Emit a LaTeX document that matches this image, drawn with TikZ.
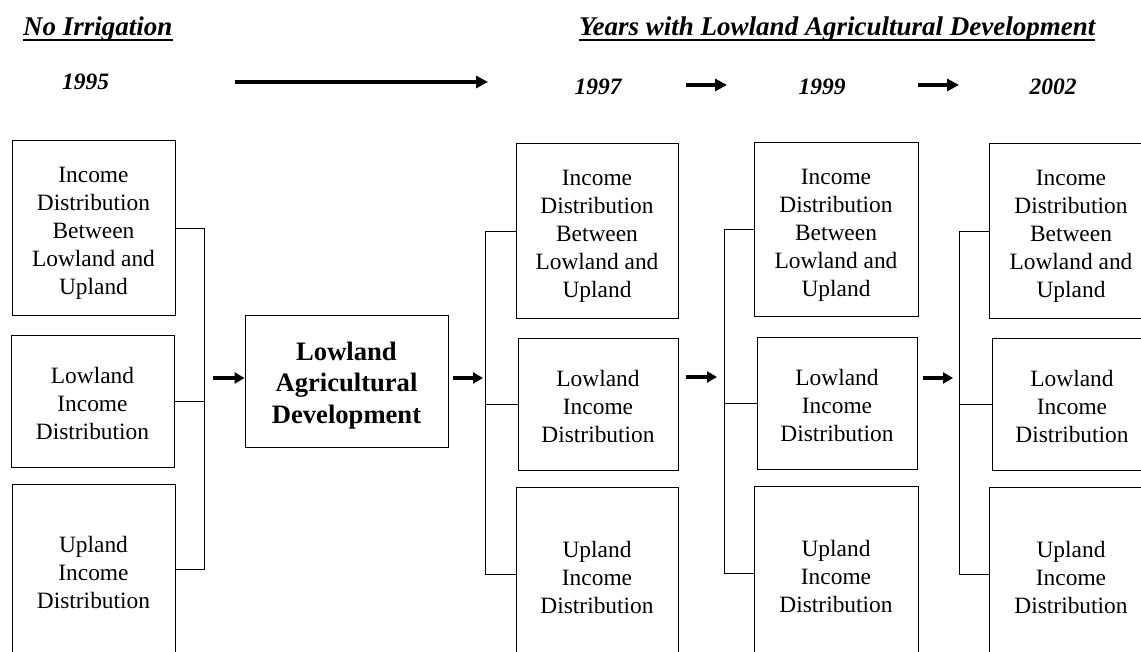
\documentclass[tikz,border=0pt]{standalone}
\usepackage{fontspec}
\setmainfont{Liberation Serif}
\usetikzlibrary{arrows.meta}
\tikzset{
  x=1pt, y=-1pt,
  box/.style={draw, line width=1pt, inner sep=0pt},
  txt/.style={inner sep=0pt, align=center,
    font=\fontsize{23.4}{28}\selectfont},
  ctxt/.style={inner sep=0pt, align=center,
    font=\fontsize{26.6}{31.5}\selectfont\bfseries},
  head/.style={inner sep=0pt, anchor=base west,
    font=\fontsize{27}{32}\selectfont\bfseries\itshape},
  year/.style={inner sep=0pt, anchor=base,
    font=\fontsize{23.5}{28}\selectfont\bfseries\itshape},
  uline/.style={line width=2pt},
  bracket/.style={line width=1pt},
  bigarrow/.style={line width=4pt, -{Triangle[length=12pt,width=12pt]}},
  arr/.style={line width=3.5pt, -{Triangle[length=10pt,width=11pt]}},
}
\begin{document}
\begin{tikzpicture}
\useasboundingbox (0,0) rectangle (1141,652);
\clip (0,0) rectangle (1141,652);

% headers
\node[head] (h1) at (23,36) {No Irrigation};
\node[head] (h2) at (579,36) {Years with Lowland Agricultural Development};
\draw[uline] ([yshift=-4.5pt]h1.base west) -- ([yshift=-4.5pt]h1.base east);
\draw[uline] ([yshift=-4.5pt]h2.base west) -- ([yshift=-4.5pt]h2.base east);

% years
\node[year] (y95) at (85.5,90) {1995};
\node[year] (y97) at (598,95) {1997};
\node[year] (y99) at (822,95) {1999};
\node[year] (y02) at (1053,95) {2002};

\coordinate (t0s) at (235,82);  \coordinate (t0e) at (488,82);
\coordinate (t1s) at (686,85);  \coordinate (t1e) at (727,85);
\coordinate (t2s) at (918,85);  \coordinate (t2e) at (959,85);
\draw[bigarrow] (t0s) -- (t0e);
\draw[bigarrow] (t1s) -- (t1e);
\draw[bigarrow] (t2s) -- (t2e);

% column 1 (1995)
\node[box, minimum width=163pt, minimum height=175pt] (a1) at (93.5,228.5) {};
\node[box, minimum width=163pt, minimum height=131pt] (a2) at (92.5,401.5) {};
\node[box, minimum width=163pt, minimum height=170pt] (a3) at (93.5,569) {};

% centre box
\node[box, minimum width=203pt, minimum height=131pt] (c) at (346.5,381.5) {};

% column 2 (1997)
\node[box, minimum width=162pt, minimum height=175pt] (b1) at (597,231.5) {};
\node[box, minimum width=160pt, minimum height=131pt] (b2) at (598,404.5) {};
\node[box, minimum width=162pt, minimum height=175pt] (b3) at (597,574.5) {};

% column 3 (1999)
\node[box, minimum width=164pt, minimum height=174pt] (d1) at (836,230) {};
\node[box, minimum width=160pt, minimum height=131pt] (d2) at (837,403.5) {};
\node[box, minimum width=164pt, minimum height=175pt] (d3) at (836,573.5) {};

% column 4 (2002)
\node[box, minimum width=164pt, minimum height=175pt] (e1) at (1071,231.5) {};
\node[box, minimum width=160pt, minimum height=131pt] (e2) at (1072,404.5) {};
\node[box, minimum width=164pt, minimum height=175pt] (e3) at (1071,574.5) {};

% box texts
\foreach \n in {a1,b1,d1,e1}
  \node[txt] (\n t) at ([yshift=-5pt]\n.center)
    {Income\\Distribution\\Between\\Lowland and\\Upland};
\foreach \n in {a2,b2,d2,e2}
  \node[txt] (\n t) at ([yshift=-2pt]\n.center)
    {Lowland\\Income\\Distribution};
\foreach \n in {a3,b3,d3,e3}
  \node[txt] (\n t) at ([yshift=-3pt]\n.center)
    {Upland\\Income\\Distribution};
\node[ctxt] (ct) at ([yshift=-4pt]c.center) {Lowland\\Agricultural\\Development};

% brackets
\coordinate (v1) at (204,0);
\coordinate (v2) at (485,0);
\coordinate (v3) at (724,0);
\coordinate (v4) at (959,0);
\draw[bracket] (a1.east) -- (a1.east -| v1) -- (a3.east -| v1) -- (a3.east);
\draw[bracket] (a2.east) -- (a2.east -| v1);
\draw[bracket] (b1.west) -- (b1.west -| v2) -- (b3.west -| v2) -- (b3.west);
\draw[bracket] (b2.west) -- (b2.west -| v2);
\draw[bracket] (d1.west) -- (d1.west -| v3) -- (d3.west -| v3) -- (d3.west);
\draw[bracket] (d2.west) -- (d2.west -| v3);
\draw[bracket] (e1.west) -- (e1.west -| v4) -- (e3.west -| v4) -- (e3.west);
\draw[bracket] (e2.west) -- (e2.west -| v4);

% flow arrows
\coordinate (f1) at (213,378);
\coordinate (f2s) at (453,378); \coordinate (f2e) at (483,378);
\coordinate (f3s) at (686,377); \coordinate (f3e) at (717,377);
\coordinate (f4s) at (923,378); \coordinate (f4e) at (953,378);
\draw[arr] (f1) -- (f1 -| c.west);
\draw[arr] (f2s) -- (f2e);
\draw[arr] (f3s) -- (f3e);
\draw[arr] (f4s) -- (f4e);
\end{tikzpicture}
\end{document}
